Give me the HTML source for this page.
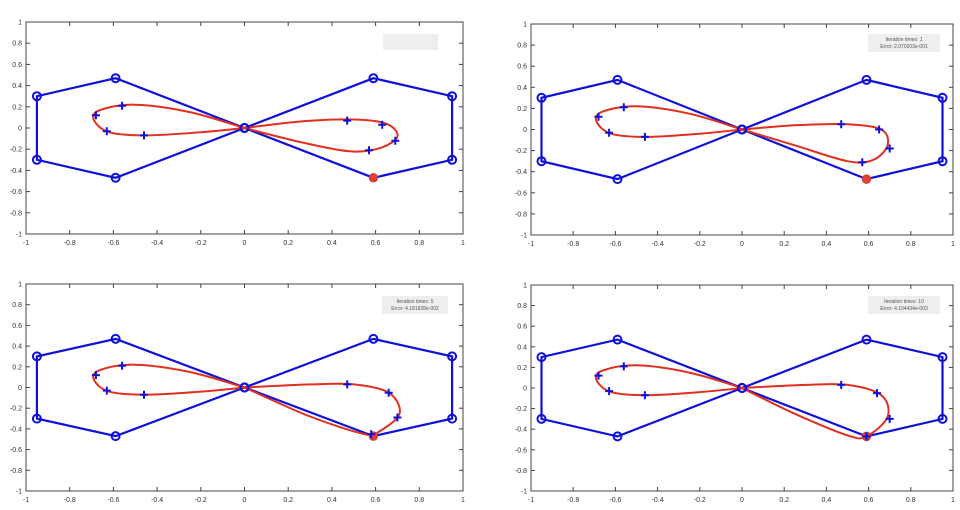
<!DOCTYPE html>
<html><head><meta charset="utf-8"><style>
html,body{margin:0;padding:0;background:#fff;}
svg{display:block;font-family:"Liberation Sans",sans-serif;}
</style></head><body>
<svg id="s" width="960" height="510" xmlns="http://www.w3.org/2000/svg"></svg>
<script>
var S=document.getElementById('s'),out='';
var plots=[
 {x0:26,x1:463,y0:22,y1:234,leg:[383,34,55,16,null],
  mk:[[0.47,0.07],[0.63,0.03],[0.69,-0.12],[0.57,-0.21]],
  cv:[[0,0],[0.25,0.06],[0.5,0.08],[0.65,0.04],[0.7,-0.08],[0.62,-0.19],[0.48,-0.22],[0.25,-0.13],[0,0]]},
 {x0:531,x1:953,y0:24,y1:235,leg:[868,34,72,18,["Iteration times: 1","Error: 2.070203e-001"]],
  mk:[[0.47,0.05],[0.65,0.0],[0.7,-0.18],[0.57,-0.31]],
  cv:[[0,0],[0.25,0.04],[0.5,0.05],[0.66,0.0],[0.69,-0.15],[0.62,-0.29],[0.5,-0.3],[0.25,-0.15],[0,0]]},
 {x0:26,x1:463,y0:284,y1:491,leg:[382,296,66,18,["Iteration times: 5","Error: 4.181828e-002"]],
  mk:[[0.47,0.03],[0.66,-0.05],[0.7,-0.29],[0.58,-0.45]],
  cv:[[0,0],[0.3,0.03],[0.5,0.03],[0.66,-0.05],[0.71,-0.25],[0.62,-0.42],[0.55,-0.45],[0.3,-0.28],[0,0]]},
 {x0:531,x1:953,y0:285,y1:491,leg:[868,296,72,18,["Iteration times: 10","Error: 4.104434e-003"]],
  mk:[[0.47,0.03],[0.64,-0.05],[0.7,-0.3],[0.59,-0.47]],
  cv:[[0,0],[0.3,0.03],[0.5,0.03],[0.66,-0.07],[0.69,-0.28],[0.59,-0.47],[0.5,-0.46],[0.25,-0.25],[0,0]]}
];
var leftLoop=[[0,0],[-0.25,0.15],[-0.5,0.22],[-0.66,0.17],[-0.69,0.08],[-0.62,-0.04],[-0.45,-0.07],[-0.2,-0.04],[0,0]];
var leftMk=[[-0.68,0.12],[-0.56,0.21],[-0.63,-0.03],[-0.46,-0.07]];
var poly=[[0,0],[-0.59,0.47],[-0.95,0.3],[-0.95,-0.3],[-0.59,-0.47],[0,0],[0.59,0.47],[0.95,0.3],[0.95,-0.3],[0.59,-0.47],[0,0]];
function cr(pts,X,Y){var d='M'+X(pts[0][0])+','+Y(pts[0][1]);
 for(var i=0;i<pts.length-1;i++){var p0=pts[Math.max(i-1,0)],p1=pts[i],p2=pts[i+1],p3=pts[Math.min(i+2,pts.length-1)];
  var c1=[p1[0]+(p2[0]-p0[0])/6,p1[1]+(p2[1]-p0[1])/6],c2=[p2[0]-(p3[0]-p1[0])/6,p2[1]-(p3[1]-p1[1])/6];
  d+=' C'+X(c1[0])+','+Y(c1[1])+' '+X(c2[0])+','+Y(c2[1])+' '+X(p2[0])+','+Y(p2[1]);}
 return d;}
plots.forEach(function(p){
 var X=function(v){return (p.x0+(v+1)/2*(p.x1-p.x0)).toFixed(1)};
 var Y=function(v){return (p.y1-(v+1)/2*(p.y1-p.y0)).toFixed(1)};
 out+='<rect x="'+p.x0+'" y="'+p.y0+'" width="'+(p.x1-p.x0)+'" height="'+(p.y1-p.y0)+'" fill="none" stroke="#444" stroke-width="1"/>';
 for(var i=-5;i<=5;i++){var v=i/5,xv=+X(v),yv=+Y(v);
  out+='<line x1="'+xv+'" y1="'+p.y1+'" x2="'+xv+'" y2="'+(p.y1-4)+'" stroke="#444"/><line x1="'+xv+'" y1="'+p.y0+'" x2="'+xv+'" y2="'+(p.y0+4)+'" stroke="#444"/>';
  out+='<line x1="'+p.x0+'" y1="'+yv+'" x2="'+(p.x0+4)+'" y2="'+yv+'" stroke="#444"/><line x1="'+p.x1+'" y1="'+yv+'" x2="'+(p.x1-4)+'" y2="'+yv+'" stroke="#444"/>';
  var lab=(i==0?'0':(i==5?'1':(i==-5?'-1':v.toFixed(1))));
  out+='<text x="'+xv+'" y="'+(p.y1+11)+'" font-size="7" fill="#333" text-anchor="middle">'+lab+'</text>';
  out+='<text x="'+(p.x0-4)+'" y="'+(yv+2.5)+'" font-size="7" fill="#333" text-anchor="end">'+lab+'</text>';}
 var l=p.leg;out+='<rect x="'+l[0]+'" y="'+l[1]+'" width="'+l[2]+'" height="'+l[3]+'" fill="#eee"/>';
 if(l[4]){out+='<text x="'+(l[0]+l[2]/2)+'" y="'+(l[1]+7)+'" font-size="5" fill="#555" text-anchor="middle">'+l[4][0]+'</text><text x="'+(l[0]+l[2]/2)+'" y="'+(l[1]+14)+'" font-size="5" fill="#555" text-anchor="middle">'+l[4][1]+'</text>';}
 out+='<polyline points="'+poly.map(function(q){return X(q[0])+','+Y(q[1])}).join(' ')+'" fill="none" stroke="#1010d8" stroke-width="2.2"/>';
 out+='<path d="'+cr(leftLoop,X,Y)+'" fill="none" stroke="#e03020" stroke-width="2"/>';
 out+='<path d="'+cr(p.cv,X,Y)+'" fill="none" stroke="#e03020" stroke-width="2"/>';
 poly.forEach(function(q,k){if(k==9)return;out+='<circle cx="'+X(q[0])+'" cy="'+Y(q[1])+'" r="4" fill="none" stroke="#1010d8" stroke-width="2"/>';});
 out+='<circle cx="'+X(0.59)+'" cy="'+Y(-0.47)+'" r="4" fill="#e04030" stroke="#d04040" stroke-width="1.5"/>';
 leftMk.concat(p.mk).forEach(function(q){var x=+X(q[0]),y=+Y(q[1]);
  out+='<path d="M'+(x-4)+','+y+'H'+(x+4)+'M'+x+','+(y-4)+'V'+(y+4)+'" stroke="#1010d8" stroke-width="2"/>';});
});
S.innerHTML=out;
</script>
</body></html>
